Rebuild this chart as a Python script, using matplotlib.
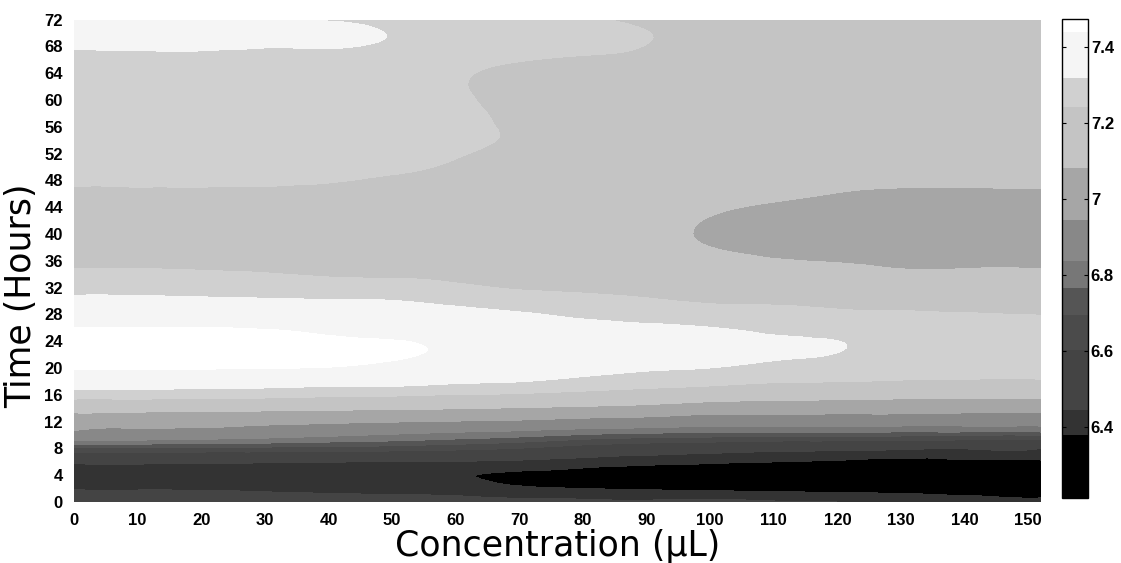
import matplotlib

matplotlib.use("Agg")
import matplotlib.pyplot as plt
import matplotlib.tri as mtri
import numpy as np
from matplotlib.ticker import FormatStrFormatter

# concentration (uL) columns and time (hours) rows
CONC = [0, 10, 20, 30, 40, 50, 60, 70, 80, 90, 100, 110, 120, 130, 140, 152]
HOURS = [0, 2, 4, 6, 8, 10, 12, 14, 16, 18, 20, 23, 26, 30, 34, 38, 42, 46,
         50, 54, 58, 62, 66, 69, 72]

# one row per entry in HOURS, one value per entry in CONC
VALUES = [
    [6.50, 6.50, 6.50, 6.495, 6.49, 6.49, 6.48, 6.47, 6.46, 6.455, 6.46, 6.45, 6.445, 6.43, 6.42, 6.41],
    [6.44, 6.44, 6.44, 6.435, 6.43, 6.42, 6.41, 6.39, 6.38, 6.37, 6.36, 6.35, 6.34, 6.33, 6.32, 6.31],
    [6.41, 6.41, 6.41, 6.41, 6.405, 6.40, 6.383, 6.37, 6.35, 6.33, 6.31, 6.29, 6.27, 6.25, 6.24, 6.23],
    [6.46, 6.465, 6.46, 6.455, 6.45, 6.44, 6.44, 6.43, 6.415, 6.40, 6.39, 6.38, 6.37, 6.36, 6.36, 6.36],
    [6.68, 6.68, 6.675, 6.67, 6.66, 6.65, 6.63, 6.60, 6.55, 6.52, 6.50, 6.48, 6.47, 6.46, 6.45, 6.445],
    [6.92, 6.90, 6.89, 6.87, 6.85, 6.83, 6.81, 6.79, 6.76, 6.74, 6.73, 6.72, 6.72, 6.715, 6.71, 6.71],
    [6.99, 6.985, 6.98, 6.97, 6.96, 6.95, 6.94, 6.93, 6.91, 6.90, 6.88, 6.88, 6.88, 6.875, 6.87, 6.87],
    [7.14, 7.135, 7.13, 7.12, 7.11, 7.10, 7.09, 7.075, 7.06, 7.04, 7.01, 7.01, 7.00, 7.00, 6.995, 6.99],
    [7.28, 7.28, 7.275, 7.27, 7.26, 7.255, 7.24, 7.23, 7.21, 7.19, 7.16, 7.14, 7.13, 7.12, 7.115, 7.11],
    [7.37, 7.37, 7.365, 7.36, 7.35, 7.345, 7.33, 7.32, 7.30, 7.28, 7.27, 7.25, 7.245, 7.235, 7.23, 7.23],
    [7.445, 7.445, 7.445, 7.44, 7.435, 7.41, 7.39, 7.37, 7.35, 7.33, 7.318, 7.30, 7.29, 7.27, 7.265, 7.26],
    [7.47, 7.47, 7.47, 7.47, 7.465, 7.455, 7.425, 7.41, 7.40, 7.38, 7.36, 7.335, 7.322, 7.29, 7.285, 7.28],
    [7.44, 7.44, 7.44, 7.435, 7.42, 7.40, 7.39, 7.37, 7.35, 7.335, 7.32, 7.30, 7.29, 7.28, 7.275, 7.27],
    [7.34, 7.34, 7.335, 7.33, 7.325, 7.32, 7.30, 7.28, 7.265, 7.25, 7.235, 7.23, 7.22, 7.21, 7.205, 7.20],
    [7.255, 7.255, 7.25, 7.245, 7.235, 7.23, 7.22, 7.20, 7.19, 7.18, 7.16, 7.13, 7.12, 7.10, 7.10, 7.10],
    [7.19, 7.19, 7.19, 7.185, 7.18, 7.18, 7.18, 7.165, 7.15, 7.13, 7.083, 7.06, 7.05, 7.04, 7.04, 7.04],
    [7.16, 7.16, 7.16, 7.16, 7.16, 7.165, 7.17, 7.155, 7.14, 7.12, 7.076, 7.05, 7.04, 7.03, 7.03, 7.03],
    [7.225, 7.225, 7.225, 7.225, 7.22, 7.21, 7.20, 7.18, 7.17, 7.15, 7.12, 7.10, 7.08, 7.07, 7.07, 7.07],
    [7.27, 7.27, 7.27, 7.265, 7.26, 7.25, 7.235, 7.21, 7.20, 7.18, 7.15, 7.14, 7.13, 7.12, 7.12, 7.12],
    [7.285, 7.285, 7.285, 7.28, 7.28, 7.27, 7.255, 7.235, 7.22, 7.20, 7.17, 7.16, 7.155, 7.15, 7.15, 7.15],
    [7.29, 7.29, 7.29, 7.285, 7.285, 7.28, 7.26, 7.225, 7.215, 7.21, 7.18, 7.17, 7.165, 7.16, 7.16, 7.16],
    [7.295, 7.295, 7.295, 7.29, 7.29, 7.285, 7.25, 7.22, 7.225, 7.22, 7.19, 7.18, 7.175, 7.17, 7.17, 7.17],
    [7.305, 7.305, 7.305, 7.30, 7.30, 7.295, 7.265, 7.245, 7.237, 7.23, 7.20, 7.19, 7.185, 7.18, 7.18, 7.18],
    [7.33, 7.335, 7.335, 7.33, 7.33, 7.315, 7.29, 7.27, 7.26, 7.244, 7.22, 7.20, 7.195, 7.19, 7.19, 7.19],
    [7.35, 7.345, 7.34, 7.33, 7.315, 7.30, 7.28, 7.275, 7.25, 7.23, 7.21, 7.20, 7.20, 7.20, 7.20, 7.20],
]

LEVELS = [6.213, 6.379, 6.445, 6.603, 6.695, 6.766, 6.837, 6.945, 7.082,
          7.242, 7.318, 7.439, 7.474]
BAND_COLORS = ["#000000", "#333333", "#444444", "#4b4b4b", "#555555", "#777777",
               "#888888", "#a6a6a6", "#c4c4c4", "#d0d0d0", "#f5f5f5", "#ffffff"]
CBAR_TICKS = [6.4, 6.6, 6.8, 7.0, 7.2, 7.4]

TICK_FONT = ["Liberation Sans Narrow", "Liberation Sans", "DejaVu Sans"]
LABEL_FONT = ["DejaVu Sans"]

fig = plt.figure(figsize=(11.21, 5.63), dpi=100)
ax = fig.add_axes([74 / 1121, 1 - 502 / 563, 967 / 1121, 482.5 / 563])
cax = fig.add_axes([1062 / 1121, 1 - 498 / 563, 26 / 1121, 479 / 563])

X, Y = np.meshgrid(CONC, HOURS)
Z = np.array(VALUES)

# split every grid cell the same way so the triangulation stays regular
ny, nx = Z.shape
idx = np.arange(nx * ny).reshape(ny, nx)
lower_left = idx[:-1, :-1].ravel()
lower_right = idx[:-1, 1:].ravel()
upper_left = idx[1:, :-1].ravel()
upper_right = idx[1:, 1:].ravel()
triangles = np.concatenate([
    np.column_stack([lower_left, lower_right, upper_right]),
    np.column_stack([lower_left, upper_right, upper_left]),
])
triang = mtri.Triangulation(X.ravel(), Y.ravel(), triangles)

# smooth the band edges with matplotlib's own cubic refinement of the grid
interp = mtri.CubicTriInterpolator(triang, Z.ravel(), kind="min_E")
refiner = mtri.UniformTriRefiner(triang)
tri_fine, z_fine = refiner.refine_field(Z.ravel(), triinterpolator=interp, subdiv=3)
z_fine = np.clip(z_fine, LEVELS[0] + 1e-4, LEVELS[-1] - 1e-4)
cf = ax.tricontourf(tri_fine, z_fine, levels=LEVELS, colors=BAND_COLORS)

ax.set_xlim(0, 152)
ax.set_ylim(0, 72)
ax.set_xticks(np.arange(0, 151, 10))
ax.set_yticks(np.arange(0, 73, 4))
for spine in ax.spines.values():
    spine.set_visible(False)
ax.tick_params(length=0, pad=8)
for label in ax.get_xticklabels() + ax.get_yticklabels():
    label.set_fontfamily(TICK_FONT)
    label.set_fontweight("bold")
    label.set_fontsize(12)

ax.set_xlabel("Concentration (\u00b5L)", fontsize=25, family=LABEL_FONT)
ax.set_ylabel("Time (Hours)", fontsize=25, family=LABEL_FONT)
ax.xaxis.set_label_coords(0.5, -0.055)
ax.yaxis.set_label_coords(-0.037, 0.427)

cbar = fig.colorbar(cf, cax=cax, spacing="proportional", ticks=CBAR_TICKS)
cbar.ax.yaxis.set_major_formatter(FormatStrFormatter("%g"))
cbar.outline.set_linewidth(1.0)
cbar.ax.tick_params(direction="in", length=3, left=True, right=True, pad=2)
for label in cbar.ax.get_yticklabels():
    label.set_fontfamily(TICK_FONT)
    label.set_fontweight("bold")
    label.set_fontsize(12)

fig.savefig("out.png", dpi=100, facecolor="white")
